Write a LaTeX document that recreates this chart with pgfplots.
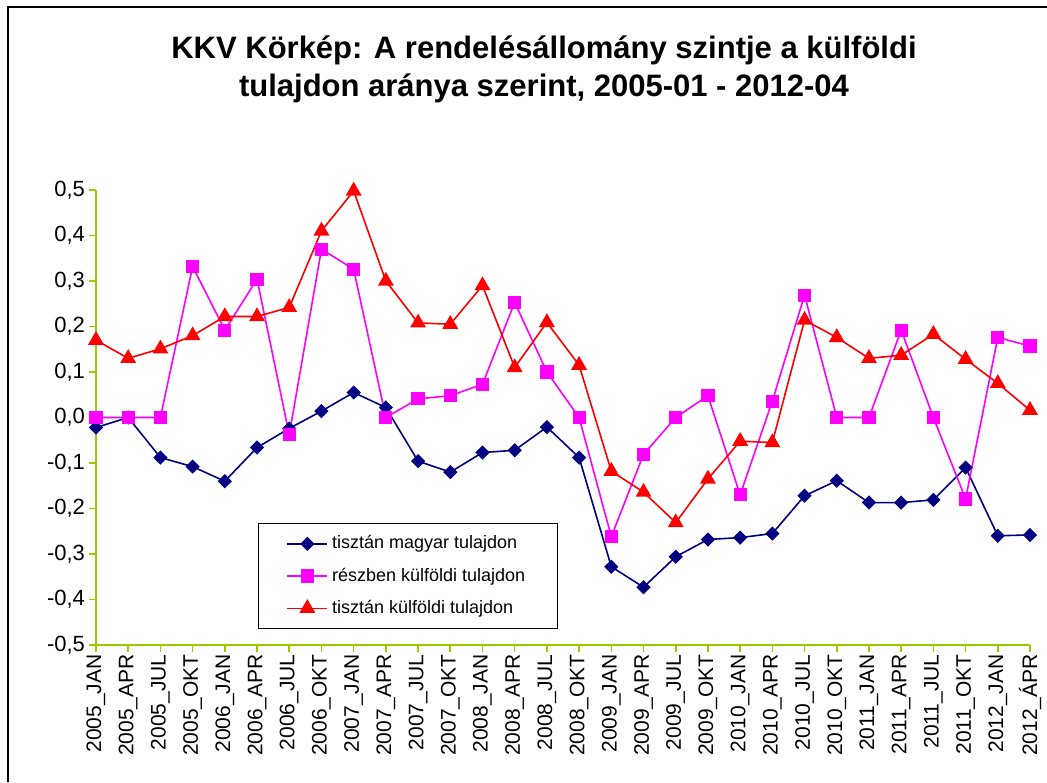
\documentclass[border=0pt]{standalone}
\usepackage{fontspec}
\setmainfont{Liberation Sans}
\usepackage{pgfplots}
\pgfplotsset{compat=1.18}
\definecolor{axgreen}{HTML}{99CC00}
\definecolor{navyc}{HTML}{000080}
\definecolor{magc}{HTML}{FF00FF}
\definecolor{redc}{HTML}{FF0000}
\begin{document}
\begin{tikzpicture}
\useasboundingbox (0,0) rectangle (523.5pt,391pt);
\draw[black, line width=1pt] (4pt,0pt) -- (4pt,387.5pt) -- (523.5pt,387.5pt);
\node[font=\bfseries\fontsize{15.5}{19}\selectfont, align=center] at (272pt,356.5pt)
  {KKV Körkép: A rendelésállomány szintje a külföldi\\tulajdon aránya szerint, 2005-01 - 2012-04};
\begin{axis}[
  at={(48pt,68.5pt)}, anchor=south west,
  scale only axis, width=467pt, height=227.5pt,
  xmin=0, xmax=29, ymin=-0.5, ymax=0.5,
  axis x line*=bottom, axis y line*=left,
  axis line style={axgreen, line width=0.8pt, -},
  xtick={0,...,29},
  xticklabels={2005\_JAN,2005\_APR,2005\_JUL,2005\_OKT,2006\_JAN,2006\_APR,2006\_JUL,2006\_OKT,2007\_JAN,2007\_APR,2007\_JUL,2007\_OKT,2008\_JAN,2008\_APR,2008\_JUL,2008\_OKT,2009\_JAN,2009\_APR,2009\_JUL,2009\_OKT,2010\_JAN,2010\_APR,2010\_JUL,2010\_OKT,2011\_JAN,2011\_APR,2011\_JUL,2011\_OKT,2012\_JAN,2012\_ÁPR},
  xticklabel style={rotate=90, anchor=east, font=\fontsize{10.5}{12}\selectfont, inner sep=1pt},
  ytick={-0.5,-0.4,...,0.5},
  yticklabel style={font=\fontsize{11}{13}\selectfont, xshift=1.5pt,
    /pgf/number format/.cd, fixed, fixed zerofill, precision=1, use comma, assume math mode=true},
  tick align=outside,
  major tick length=3.5pt,
  tick style={axgreen, line width=0.8pt},
  legend style={at={(0.1734,0.268)}, anchor=north west, draw=black, line width=0.6pt,
    font=\fontsize{9}{11}\selectfont, row sep=4pt, inner xsep=14pt, inner ysep=4pt},
  legend cell align=left,
  legend image code/.code={\draw[mark repeat=2,mark phase=2] plot coordinates {(0pt,0pt) (10pt,0pt) (20pt,0pt)};},
  clip=false,
]
\addplot[navyc, line width=0.8pt, mark=diamond*, mark size=3pt, mark options={solid, xscale=1.33}] coordinates {
(0,-0.022) (1,0.0) (2,-0.088) (3,-0.108) (4,-0.140) (5,-0.066) (6,-0.024) (7,0.014) (8,0.055) (9,0.022)
(10,-0.096) (11,-0.120) (12,-0.077) (13,-0.072) (14,-0.021) (15,-0.088) (16,-0.328) (17,-0.373) (18,-0.306) (19,-0.268)
(20,-0.264) (21,-0.255) (22,-0.172) (23,-0.139) (24,-0.187) (25,-0.187) (26,-0.181) (27,-0.110) (28,-0.260) (29,-0.258)};
\addlegendentry{tisztán magyar tulajdon}
\addplot[magc, line width=0.8pt, mark=square*, mark size=2.9pt, mark options={solid}] coordinates {
(0,0.0) (1,0.0) (2,0.0) (3,0.332) (4,0.192) (5,0.304) (6,-0.038) (7,0.370) (8,0.326) (9,0.0)
(10,0.041) (11,0.048) (12,0.073) (13,0.253) (14,0.100) (15,0.0) (16,-0.262) (17,-0.081) (18,0.0) (19,0.048)
(20,-0.170) (21,0.036) (22,0.269) (23,0.0) (24,0.0) (25,0.192) (26,0.0) (27,-0.179) (28,0.176) (29,0.157)};
\addlegendentry{részben külföldi tulajdon}
\addplot[redc, line width=0.8pt, mark=triangle*, mark size=3.8pt, mark options={solid}] coordinates {
(0,0.170) (1,0.130) (2,0.151) (3,0.180) (4,0.222) (5,0.222) (6,0.242) (7,0.410) (8,0.498) (9,0.300)
(10,0.208) (11,0.205) (12,0.290) (13,0.110) (14,0.209) (15,0.115) (16,-0.118) (17,-0.164) (18,-0.231) (19,-0.135)
(20,-0.052) (21,-0.055) (22,0.214) (23,0.176) (24,0.130) (25,0.137) (26,0.183) (27,0.128) (28,0.075) (29,0.016)};
\addlegendentry{tisztán külföldi tulajdon}
\end{axis}
\end{tikzpicture}
\end{document}
